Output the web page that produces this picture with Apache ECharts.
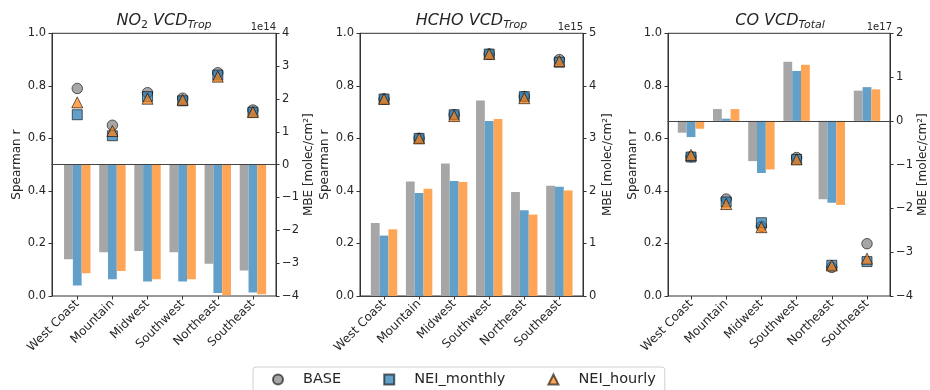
<!DOCTYPE html>
<html>
<head>
<meta charset="utf-8">
<script src="https://cdn.jsdelivr.net/npm/echarts@6/dist/echarts.min.js"></script>
<style>
  html, body { margin: 0; padding: 0; background: #fff; }
  #chart { width: 930px; height: 390px; }
</style>
</head>
<body>
<div id="chart"></div>
<script>
  // categories
  const regions = ['West Coast', 'Mountain', 'Midwest', 'Southwest', 'Northeast', 'Southeast'];
  const seriesNames = ['BASE', 'NEI_monthly', 'NEI_hourly'];

  // NO2: Spearman r and MBE (x 1e14 molec/cm2)
  const no2RBase    = [0.79, 0.65, 0.774, 0.753, 0.85, 0.708];
  const no2RMonthly = [0.69, 0.61, 0.759, 0.743, 0.841, 0.70];
  const no2RHourly  = [0.737, 0.628, 0.751, 0.747, 0.835, 0.70];
  const no2MbeBase    = [-2.88, -2.67, -2.63, -2.67, -3.02, -3.22];
  const no2MbeMonthly = [-3.68, -3.49, -3.56, -3.56, -3.91, -3.89];
  const no2MbeHourly  = [-3.31, -3.24, -3.49, -3.49, -3.98, -3.95];

  // HCHO: Spearman r and MBE (x 1e15 molec/cm2)
  const hchoRBase    = [0.75, 0.60, 0.69, 0.921, 0.759, 0.90];
  const hchoRMonthly = [0.75, 0.60, 0.69, 0.921, 0.759, 0.89];
  const hchoRHourly  = [0.75, 0.60, 0.685, 0.921, 0.753, 0.894];
  const hchoMbeBase    = [1.39, 2.18, 2.52, 3.72, 1.98, 2.10];
  const hchoMbeMonthly = [1.15, 1.96, 2.19, 3.33, 1.63, 2.08];
  const hchoMbeHourly  = [1.27, 2.04, 2.17, 3.37, 1.55, 2.01];

  // CO: Spearman r and MBE (x 1e17 molec/cm2)
  const coRBase    = [0.53, 0.369, 0.265, 0.527, 0.109, 0.199];
  const coRMonthly = [0.529, 0.358, 0.279, 0.52, 0.117, 0.131];
  const coRHourly  = [0.537, 0.35, 0.262, 0.52, 0.116, 0.142];
  const coMbeBase    = [-0.27, 0.27, -0.92, 1.35, -1.79, 0.69];
  const coMbeMonthly = [-0.37, 0.05, -1.19, 1.14, -1.87, 0.77];
  const coMbeHourly  = [-0.18, 0.27, -1.11, 1.28, -1.92, 0.72];

  // tick labels
  const rTicks = [0, 0.2, 0.4, 0.6, 0.8, 1.0];

  const FONT = 'DejaVu Sans';
  const TXT = '#262626';
  const AXC = '#333';
  const barColors = ['#a6a6a6', '#62a0ca', '#ffa656'];
  const markColors = ['rgba(128,128,128,0.7)', 'rgba(31,119,180,0.7)', 'rgba(255,127,14,0.7)'];
  const markShapes = ['circle', 'rect', 'triangle'];
  const markSizes = [10.5, 10, 11];

  const panels = [
    { title: '{i|NO}{n|2}{i| VCD}{s|Trop}', exp: '1e14', left: 52, width: 224, dataLeft: 59.7, dataWidth: 210.8,
      mbeMin: -4, mbeMax: 4, mbeGap: 27,
      r: [no2RBase, no2RMonthly, no2RHourly], mbe: [no2MbeBase, no2MbeMonthly, no2MbeHourly] },
    { title: '{i|HCHO VCD}{s|Trop}', exp: '1e15', left: 360, width: 223, dataLeft: 366.5, dataWidth: 210.4,
      mbeMin: 0, mbeMax: 5, mbeGap: 19,
      r: [hchoRBase, hchoRMonthly, hchoRHourly], mbe: [hchoMbeBase, hchoMbeMonthly, hchoMbeHourly] },
    { title: '{i|CO VCD}{s|Total}', exp: '1e17', left: 668, width: 224, dataLeft: 673.4, dataWidth: 211.2,
      mbeMin: -4, mbeMax: 2, mbeGap: 27,
      r: [coRBase, coRMonthly, coRHourly], mbe: [coMbeBase, coMbeMonthly, coMbeHourly] }
  ];

  const TOP = 33.3, HEIGHT = 262.7;
  const titles = [], grids = [], xAxes = [], yAxes = [], series = [];

  panels.forEach((p, i) => {
    titles.push({
      text: p.title, left: p.left + p.width / 2, top: 11, textAlign: 'center', padding: 0,
      textStyle: { fontWeight: 'normal', rich: {
        i: { fontFamily: FONT, fontSize: 16, fontStyle: 'italic', fontWeight: 'normal', color: TXT, lineHeight: 20 },
        n: { fontFamily: FONT, fontSize: 11, fontWeight: 'normal', color: TXT, lineHeight: 11, verticalAlign: 'bottom' },
        s: { fontFamily: FONT, fontSize: 11, fontStyle: 'italic', fontWeight: 'normal', color: TXT, lineHeight: 11, verticalAlign: 'bottom' }
      } }
    });
    titles.push({
      text: p.exp, left: p.left + p.width, top: 22, textAlign: 'right', padding: 0,
      textStyle: { fontFamily: FONT, fontSize: 10, fontWeight: 'normal', color: TXT }
    });

    // frame grid (axes, spines) and data grid (categories)
    grids.push({ left: p.left, top: TOP, width: p.width, height: HEIGHT, show: true,
      borderColor: AXC, borderWidth: 1, backgroundColor: 'transparent', containLabel: false });
    grids.push({ left: p.dataLeft, top: TOP, width: p.dataWidth, height: HEIGHT, containLabel: false });

    const dx = 2 * i + 1;
    const fyr = 4 * i + 1, dyl = 4 * i + 2, dyr = 4 * i + 3;

    xAxes.push({
      gridIndex: 2 * i, type: 'value', min: 0, max: 1, z: 3,
      axisLine: { show: true, onZero: true, onZeroAxisIndex: fyr, lineStyle: { color: '#444', width: 1 } },
      axisTick: { show: false }, axisLabel: { show: false }, splitLine: { show: false }
    });
    xAxes.push({
      gridIndex: 2 * i + 1, type: 'category', data: regions, boundaryGap: true,
      axisLine: { show: false },
      axisTick: { show: true, alignWithLabel: true, length: 3.5, lineStyle: { color: AXC } },
      axisLabel: { rotate: 45, margin: 6, fontFamily: FONT, fontSize: 12, color: TXT, interval: 0 },
      splitLine: { show: false }
    });

    yAxes.push({
      gridIndex: 2 * i, type: 'value', position: 'left', min: 0, max: 1, interval: 0.2,
      name: 'Spearman r', nameLocation: 'middle', nameGap: 29,
      nameTextStyle: { fontFamily: FONT, fontSize: 12, color: TXT },
      axisLine: { show: true, lineStyle: { color: AXC } },
      axisTick: { show: true, length: 3.5, lineStyle: { color: AXC } },
      axisLabel: { margin: 6, fontFamily: FONT, fontSize: 11.5, color: TXT,
        formatter: v => rTicks.includes(Math.round(v * 10) / 10) ? v.toFixed(1) : '' },
      splitLine: { show: false }
    });
    yAxes.push({
      gridIndex: 2 * i, type: 'value', position: 'right', min: p.mbeMin, max: p.mbeMax, interval: 1,
      name: 'MBE [molec/cm²]', nameLocation: 'middle', nameGap: p.mbeGap, nameRotate: 90,
      nameTextStyle: { fontFamily: FONT, fontSize: 12, color: TXT },
      axisLine: { show: true, lineStyle: { color: AXC } },
      axisTick: { show: true, length: 3.5, lineStyle: { color: AXC } },
      axisLabel: { margin: 6, fontFamily: FONT, fontSize: 11.5, color: TXT,
        formatter: v => v < 0 ? '\u2212' + Math.abs(v) : String(v) },
      splitLine: { show: false }
    });
    yAxes.push({ gridIndex: 2 * i + 1, type: 'value', min: 0, max: 1, show: false, splitLine: { show: false } });
    yAxes.push({ gridIndex: 2 * i + 1, type: 'value', min: p.mbeMin, max: p.mbeMax, show: false, splitLine: { show: false } });

    for (let k = 0; k < 3; k++) {
      series.push({
        name: seriesNames[k] + ' MBE', type: 'bar', xAxisIndex: dx, yAxisIndex: dyr,
        data: p.mbe[k], barWidth: 8.8, barGap: '0%',
        itemStyle: { color: barColors[k] }, silent: true
      });
    }
    for (let k = 0; k < 3; k++) {
      series.push({
        name: seriesNames[k], type: 'scatter', xAxisIndex: dx, yAxisIndex: dyl,
        data: p.r[k], symbol: markShapes[k], symbolSize: markSizes[k], z: 4,
        itemStyle: { color: markColors[k], borderColor: 'rgba(0,0,0,0.6)', borderWidth: 1, opacity: 1 }
      });
    }
  });

  const chart = echarts.init(document.getElementById('chart'), null, { renderer: 'canvas' });
  chart.setOption({
    animation: false,
    textStyle: { fontFamily: FONT },
    title: titles,
    grid: grids,
    xAxis: xAxes,
    yAxis: yAxes,
    legend: {
      data: seriesNames, left: 253, top: 367, orient: 'horizontal',
      itemWidth: 10, itemHeight: 10, itemGap: 42, padding: [5, 9, 5, 19],
      borderColor: '#d0d0d0', borderWidth: 1, borderRadius: 3, backgroundColor: '#fff',
      textStyle: { fontFamily: FONT, fontSize: 14.5, color: TXT, padding: [0, 0, 0, 15] }
    },
    series: series
  });
  window.addEventListener('resize', function () { chart.resize(); });
</script>
</body>
</html>
